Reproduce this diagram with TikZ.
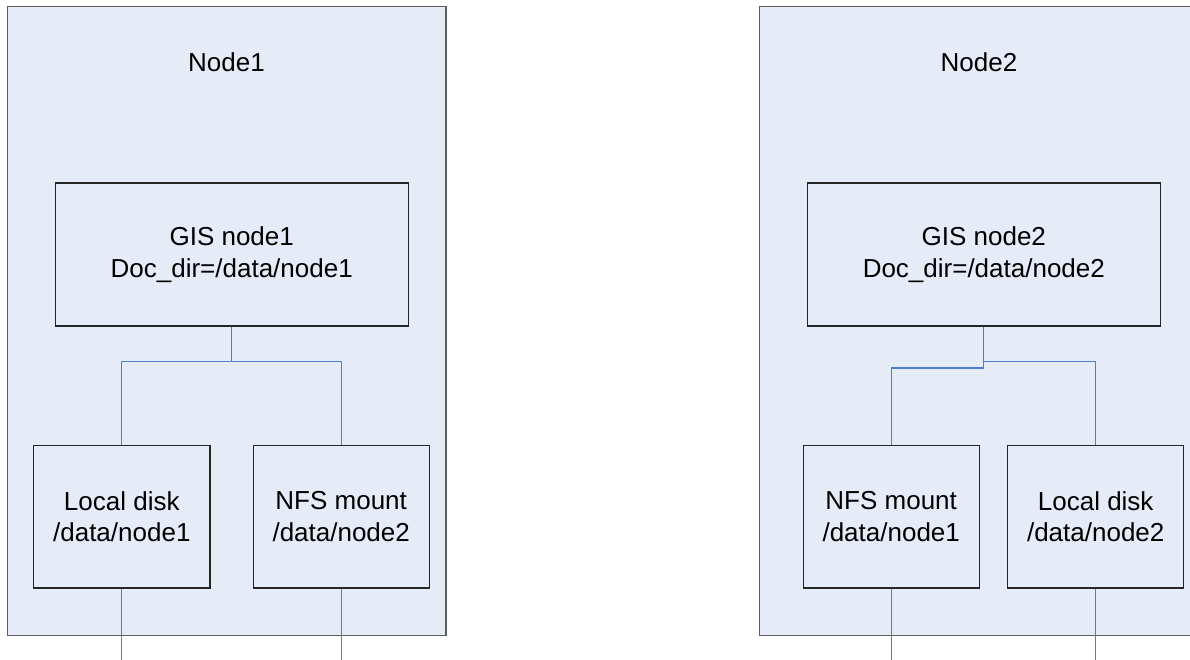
\documentclass[tikz,border=0pt]{standalone}
\usepackage{fontspec}
\setmainfont{Liberation Sans}
\definecolor{panelfill}{HTML}{E6ECF7}
\definecolor{panelline}{HTML}{5E5E5E}
\definecolor{boxline}{HTML}{262626}
\definecolor{wire}{HTML}{4F7CD0}
\begin{document}
\begin{tikzpicture}[x=1pt,y=-1pt,
  panel/.style={draw=panelline,fill=panelfill,line width=1.3pt,minimum width=438.7pt,minimum height=629pt,inner sep=0pt},
  title/.style={anchor=base,inner sep=0pt,font=\fontsize{26}{31.7}\selectfont},
  unit/.style={draw=boxline,fill=panelfill,line width=1.1pt,inner sep=0pt,align=center,font=\fontsize{26}{31.7}\selectfont},
  gisbox/.style={unit,minimum width=352.7pt,minimum height=143pt},
  diskbox/.style={unit,minimum width=176.3pt,minimum height=142.6pt},
  wireline/.style={draw=wire,line width=1.3pt}]
\useasboundingbox (0,0) rectangle (1190,660);
\fill[white] (0,0) rectangle (1190,660);
% panels
\node[panel] (p1) at (226.7,321.2) {};
\node[panel] (p2) at (979,321.2) {};
\node[title] (t1) at (226.5,71.2) {Node1};
\node[title] (t2) at (979,71.2) {Node2};
% boxes
\node[gisbox] (g1) at (231.7,254.5) {GIS node1\\Doc\_dir=/data/node1};
\node[diskbox] (l1) at (121.8,516.7) {Local disk\\/data/node1};
\node[diskbox] (m1) at (341.2,516.7) {NFS mount\\/data/node2};
\node[gisbox] (g2) at (983.8,254.5) {GIS node2\\Doc\_dir=/data/node2};
\node[diskbox] (m2) at (891.2,516.7) {NFS mount\\/data/node1};
\node[diskbox] (l2) at (1095.7,516.7) {Local disk\\/data/node2};
% free ends
\coordinate (e1) at (121.8,660);
\coordinate (e2) at (341.2,660);
\coordinate (e3) at (891.2,660);
\coordinate (e4) at (1095.7,660);
% connectors left
\draw[wireline] (g1.south) -- ++(0,35) -| (l1.north);
\draw[wireline] (g1.south) -- ++(0,35) -| (m1.north);
\draw[wireline] (l1.south) -- (e1);
\draw[wireline] (m1.south) -- (e2);
% connectors right
\draw[wireline] (g2.south) -- ++(0,41.5) -| (m2.north);
\draw[wireline] (g2.south) -- ++(0,35) -| (l2.north);
\draw[wireline] (m2.south) -- (e3);
\draw[wireline] (l2.south) -- (e4);
\end{tikzpicture}
\end{document}
